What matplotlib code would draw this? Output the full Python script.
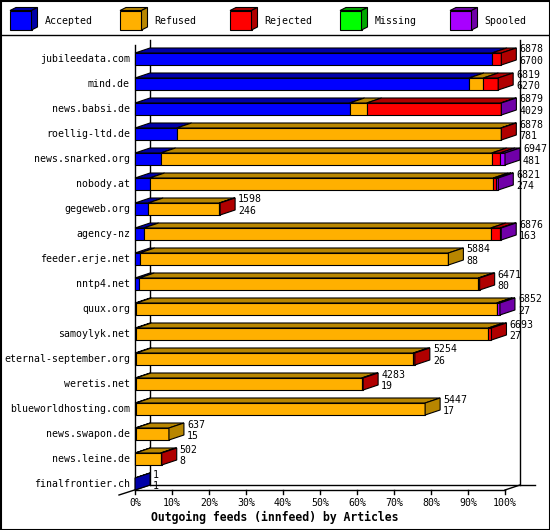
import numpy as np
import matplotlib
matplotlib.use("Agg")
import matplotlib.pyplot as plt
from matplotlib.patches import Rectangle, Polygon

# data (articles per outgoing feed)
hosts = ["jubileedata.com", "mind.de", "news.babsi.de", "roellig-ltd.de",
         "news.snarked.org", "nobody.at", "gegeweb.org", "agency-nz",
         "feeder.erje.net", "nntp4.net", "quux.org", "samoylyk.net",
         "eternal-september.org", "weretis.net", "blueworldhosting.com",
         "news.swapon.de", "news.leine.de", "finalfrontier.ch"]
totals = [6878, 6819, 6879, 6878, 6947, 6821, 1598, 6876, 5884, 6471,
          6852, 6693, 5254, 4283, 5447, 637, 502, 1]
accepted = [6700, 6270, 4029, 781, 481, 274, 246, 163, 88, 80,
            27, 27, 26, 19, 17, 15, 8, 1]
refused = [0, 270, 321, 6087, 6216, 6453, 1337, 6516, 5796, 6366,
           6764, 6607, 5200, 4237, 5430, 622, 474, 0]
rejected = [178, 279, 2516, 10, 156, 51, 15, 175, 0, 25,
            15, 59, 28, 27, 0, 0, 20, 0]
missing = [0] * 18
spooled = [0, 0, 13, 0, 94, 43, 0, 22, 0, 0,
           46, 0, 0, 0, 0, 0, 0, 0]

categories = ["Accepted", "Refused", "Rejected", "Missing", "Spooled"]
front_cols = ["#0000ff", "#ffb000", "#ff0000", "#00ff00", "#a800ff"]
dark_cols = ["#0000a8", "#b88600", "#b00000", "#00a800", "#7000a8"]
xticks = np.arange(0, 101, 10)
title = "Outgoing feeds (innfeed) by Articles"

mono = "DejaVu Sans Mono"
fs = 7.1

fig = plt.figure(figsize=(5.5, 5.3), dpi=100)
fig.patch.set_facecolor("white")

# chart axes: x in percent of the biggest feed, y in rows
PX = 3.7      # pixels per percent
X0 = 135      # pixel of 0%
ROW = 25      # pixels per row
Y0 = 59       # pixel of first row centre
ax = fig.add_axes([0, 0, 1, 1])
ax.set_xlim(-X0 / PX, (550 - X0) / PX)
ax.set_ylim((530 - Y0) / ROW, -Y0 / ROW)
ax.axis("off")

DX = 15 / PX
DY = 5 / ROW
H = 6 / ROW
n = len(hosts)
floor = n - 1 + H
top_px = lambda p: (p - Y0) / ROW

# walls / floor
lk = dict(color="black", lw=1.0, zorder=1)
ax.plot([0, 0], [top_px(45), floor], **lk)
ax.plot([DX, DX], [top_px(40), floor - DY], **lk)
ax.plot([100 + DX, 100 + DX], [top_px(40), floor - DY], **lk)
ax.plot([DX, (535 - X0) / PX], [floor - DY, floor - DY], **lk)
ax.plot([0, 100], [floor, floor], **lk)
ax.plot([100, 100 + DX], [floor, floor - DY], **lk)
ax.plot([DX, -16 / PX], [floor - DY, floor + DY], **lk)
for t in xticks:
    ax.plot([t, t], [floor, floor + 4 / ROW], **lk)
    ax.text(t, top_px(503), f"{t}%", ha="center", va="center",
            family=mono, fontsize=fs)

vmax = max(totals)
series = [accepted, refused, rejected, missing, spooled]
for i, host in enumerate(hosts):
    left = 0.0
    last = None
    for k, vals in enumerate(series):
        v = vals[i]
        if v <= 0:
            continue
        w = v / vmax * 100
        ax.add_patch(Rectangle((left, i - H), w, 2 * H, fc=front_cols[k],
                               ec="black", lw=0.8, zorder=2))
        ax.add_patch(Polygon([(left, i - H), (left + w, i - H),
                              (left + w + DX, i - H - DY), (left + DX, i - H - DY)],
                             closed=True, fc=dark_cols[k], ec="black", lw=0.8, zorder=2))
        left += w
        last = k
    ax.add_patch(Polygon([(left, i - H), (left, i + H),
                          (left + DX, i + H - DY), (left + DX, i - H - DY)],
                         closed=True, fc=dark_cols[last], ec="black", lw=0.8, zorder=3))
    ax.text(-5 / PX, i, host, ha="right", va="center", family=mono, fontsize=fs)
    tx = totals[i] / vmax * 100 + DX + 3 / PX
    ax.text(tx, i - 0.38, str(totals[i]), ha="left", va="center",
            family=mono, fontsize=fs, zorder=4)
    ax.text(tx, i + 0.08, str(accepted[i]), ha="left", va="center",
            family=mono, fontsize=fs, zorder=4)

# overlay in pixels for legend and frame
deco = fig.add_axes([0, 0, 1, 1])
deco.set_xlim(0, 550)
deco.set_ylim(530, 0)
deco.axis("off")
deco.patch.set_alpha(0)
deco.add_patch(Rectangle((0.5, 0.5), 549, 529, fill=False, ec="black", lw=1.5))
deco.plot([0, 550], [35, 35], color="black", lw=1.0)
for k, cat in enumerate(categories):
    bx = 10 + 110 * k
    deco.add_patch(Rectangle((bx, 10.5), 21.5, 19.5, fc=front_cols[k], ec="black", lw=0.8))
    deco.add_patch(Polygon([(bx, 10.5), (bx + 21.5, 10.5), (bx + 27.5, 7.5), (bx + 6, 7.5)],
                           closed=True, fc=dark_cols[k], ec="black", lw=0.8))
    deco.add_patch(Polygon([(bx + 21.5, 10.5), (bx + 21.5, 30), (bx + 27.5, 27), (bx + 27.5, 7.5)],
                           closed=True, fc=dark_cols[k], ec="black", lw=0.8))
    deco.text(bx + 34.5, 20.5, cat, ha="left", va="center", family=mono, fontsize=fs)

deco.text(275, 517, title, ha="center", va="center", family=mono,
          fontsize=8.3, fontweight="bold")

fig.savefig("out.png", dpi=100, facecolor="white")
